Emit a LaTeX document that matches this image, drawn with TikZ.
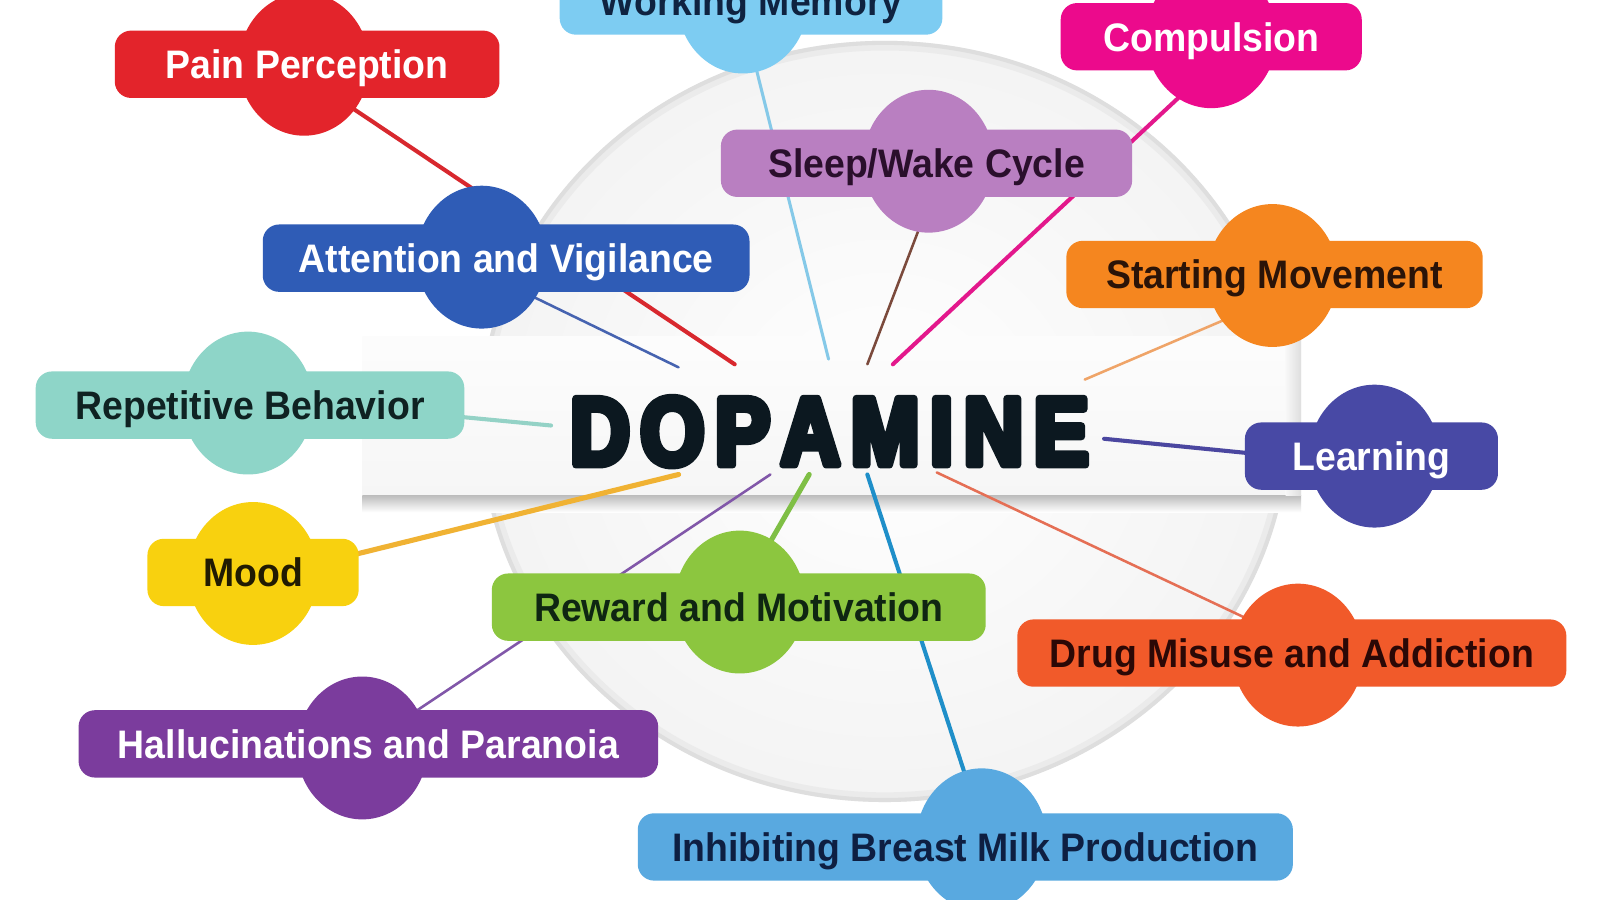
\documentclass[tikz,border=0pt]{standalone}
\usepackage{fontspec}
\usepackage{graphicx}
\usetikzlibrary{shapes.geometric,calc}
\newfontfamily\labfont[FakeStretch=0.94]{Liberation Sans}
\newfontfamily\dopfont[FakeStretch=0.84]{Liberation Sans Bold}
\newcommand\heavytext[1]{\special{pdf:literal direct 2 Tr 0.75 w 1 j}#1\special{pdf:literal direct 0 Tr}}
\pgfdeclarelayer{plate}
\pgfdeclarelayer{links}
\pgfsetlayers{plate,links,main}
% fills / texts
\definecolor{cWM}{HTML}{7DCCF2}\definecolor{tWM}{HTML}{0F2341}
\definecolor{cComp}{HTML}{EC0A8C}
\definecolor{cPain}{HTML}{E3242B}
\definecolor{cSleep}{HTML}{B97FC1}\definecolor{tSleep}{HTML}{2A0F2C}
\definecolor{cAttn}{HTML}{2F5CB6}
\definecolor{cStart}{HTML}{F5861F}\definecolor{tStart}{HTML}{2B1408}
\definecolor{cRep}{HTML}{8ED5C8}\definecolor{tRep}{HTML}{0F2222}
\definecolor{cLearn}{HTML}{4849A5}
\definecolor{cMood}{HTML}{F8D10F}\definecolor{tMood}{HTML}{211B02}
\definecolor{cReward}{HTML}{8CC63F}\definecolor{tReward}{HTML}{0F2612}
\definecolor{cDrug}{HTML}{F15A2A}\definecolor{tDrug}{HTML}{2B0806}
\definecolor{cHall}{HTML}{7B3C9D}
\definecolor{cInhib}{HTML}{59A9E0}\definecolor{tInhib}{HTML}{0E1F42}
\definecolor{cDop}{HTML}{0C1820}
% links
\definecolor{lPain}{HTML}{D8282E}\definecolor{lAttn}{HTML}{4663B0}
\definecolor{lWM}{HTML}{85C9E8}\definecolor{lSleep}{HTML}{7B4A3C}
\definecolor{lComp}{HTML}{E3188C}\definecolor{lStart}{HTML}{EFA468}
\definecolor{lRep}{HTML}{94D2C6}\definecolor{lLearn}{HTML}{4B47A0}
\definecolor{lMood}{HTML}{F0B233}\definecolor{lHall}{HTML}{8157A9}
\definecolor{lReward}{HTML}{7FBF45}\definecolor{lInhib}{HTML}{1F8FC9}
\definecolor{lDrug}{HTML}{E56F55}
\tikzset{
  blobrect/.style={rectangle, rounded corners=16pt, inner sep=0pt,
    minimum height=66pt, text height=28pt, text depth=0pt,
    font={\labfont\bfseries\fontsize{39pt}{39pt}\selectfont}},
  blobbump/.style={ellipse, inner sep=0pt, minimum width=128pt, minimum height=140pt},
  link/.style={line cap=round},
}
% #1 name, #2 fill, #3 text colour, #4 rect centre, #5 rect width, #6 bump centre, #7 text
\newcommand\blob[7]{%
  \node[blobbump, fill=#2] (#1b) at #6 {};
  \node[blobrect, fill=#2, text=#3, minimum width=#5] (#1) at #4 {#7};
}
\begin{document}
\begin{tikzpicture}[x=1pt,y=-1pt]
\useasboundingbox (0,0) rectangle (1568,882);

% ---------- nodes ----------
\blob{wm}{cWM}{tWM}{(736,1)}{375pt}{(728,2)}{Working Memory}
\blob{comp}{cComp}{white}{(1187,36)}{295pt}{(1187,36)}{Compulsion}
\blob{pain}{cPain}{white}{(301,63)}{377pt}{(298,63)}{Pain Perception}
\blob{sleep}{cSleep}{tSleep}{(908,160)}{403pt}{(910,158)}{Sleep/Wake Cycle}
\blob{attn}{cAttn}{white}{(496,253)}{477pt}{(472,252)}{Attention and Vigilance}
\blob{start}{cStart}{tStart}{(1249,269)}{408pt}{(1247,270)}{Starting Movement}
\blob{rep}{cRep}{tRep}{(245,397)}{420pt}{(243,395)}{Repetitive Behavior}
\blob{learn}{cLearn}{white}{(1344,447)}{248pt}{(1347,447)}{Learning}
\blob{mood}{cMood}{tMood}{(248,561)}{207pt}{(248,562)}{Mood}
\blob{reward}{cReward}{tReward}{(724,595)}{484pt}{(725,590)}{Reward and Motivation}
\blob{drug}{cDrug}{tDrug}{(1266,640)}{538pt}{(1272,642)}{Drug Misuse and Addiction}
\blob{hall}{cHall}{white}{(361,729)}{568pt}{(355,733)}{Hallucinations and Paranoia}
\blob{inhib}{cInhib}{tInhib}{(946,830)}{642pt}{(962,823)}{Inhibiting Breast Milk Production}

\node[inner sep=0pt, text=cDop] (dop) at (813,423)
  {\resizebox{508pt}{66pt}{\dopfont\heavytext{D\hspace{.11em}O\hspace{.11em}P\hspace{.11em}A\hspace{.11em}M\hspace{.11em}I\hspace{.11em}N\hspace{.11em}E}}};

% free ends of the connectors, round the title
\coordinate (ePain) at (720,357);
\coordinate (eAttn) at (665,360);
\coordinate (eWM) at (812,352);
\coordinate (eSleep) at (850,357);
\coordinate (eComp) at (875,357);
\coordinate (eStart) at (1063,372);
\coordinate (eRep) at (540,417);
\coordinate (eLearn) at (1082,430);
\coordinate (eMood) at (665,465);
\coordinate (eHall) at (755,465);
\coordinate (eReward) at (793,465);
\coordinate (eInhib) at (850,465);
\coordinate (eDrug) at (918,463);

% ---------- plate ----------
\begin{pgfonlayer}{plate}
  \fill[white] (0,0) rectangle (1568,882);
  \shade[inner color=white, outer color=gray!9] (867,413) ellipse [x radius=397, y radius=373];
  \draw[gray!9, line width=18pt] (867,413) ellipse [x radius=386, y radius=362];
  \draw[gray!16, line width=9pt] (867,413) ellipse [x radius=392, y radius=368];
  \draw[gray!26, line width=4pt] (867,413) ellipse [x radius=395, y radius=371];
  \shade[top color=gray!2, bottom color=gray!7] (355,330) rectangle (1275,486);
  \shade[top color=gray!50, bottom color=white] (355,486) rectangle (1275,502);
  \shade[left color=gray!6, right color=gray!26] (1260,330) rectangle (1275,486);
\end{pgfonlayer}

% ---------- connectors ----------
\begin{pgfonlayer}{links}
  \draw[link, lPain, line width=4pt] ([shift={(19,26)}]pain.center) -- (ePain);
  \draw[link, lAttn, line width=2.5pt] ([shift={(-4,23)}]attn.center) -- (eAttn);
  \draw[link, lWM, line width=3pt] ([shift={(-1,42)}]wm.center) -- (eWM);
  \draw[link, lSleep, line width=2.5pt] ([shift={(0,45)}]sleep.center) -- (eSleep);
  \draw[link, lComp, line width=4pt] ([shift={(-13,42)}]comp.center) -- (eComp);
  \draw[link, lStart, line width=2.5pt] ([shift={(-27,35)}]start.center) -- (eStart);
  \draw[link, lRep, line width=4pt] ([shift={(190,10)}]rep.center) -- (eRep);
  \draw[link, lLearn, line width=4pt] ([shift={(-101,-1)}]learn.center) -- (eLearn);
  \draw[link, lMood, line width=5pt] ([shift={(85,-14)}]mood.center) -- (eMood);
  \draw[link, lHall, line width=2.5pt] ([shift={(36,-25)}]hall.center) -- (eHall);
  \draw[link, lReward, line width=5pt] ([shift={(24,-52)}]reward.center) -- (eReward);
  \draw[link, lInhib, line width=4pt] ([shift={(3,-61)}]inhib.center) -- (eInhib);
  \draw[link, lDrug, line width=2.5pt] ([shift={(-34,-29)}]drug.center) -- (eDrug);
\end{pgfonlayer}
\end{tikzpicture}
\end{document}
